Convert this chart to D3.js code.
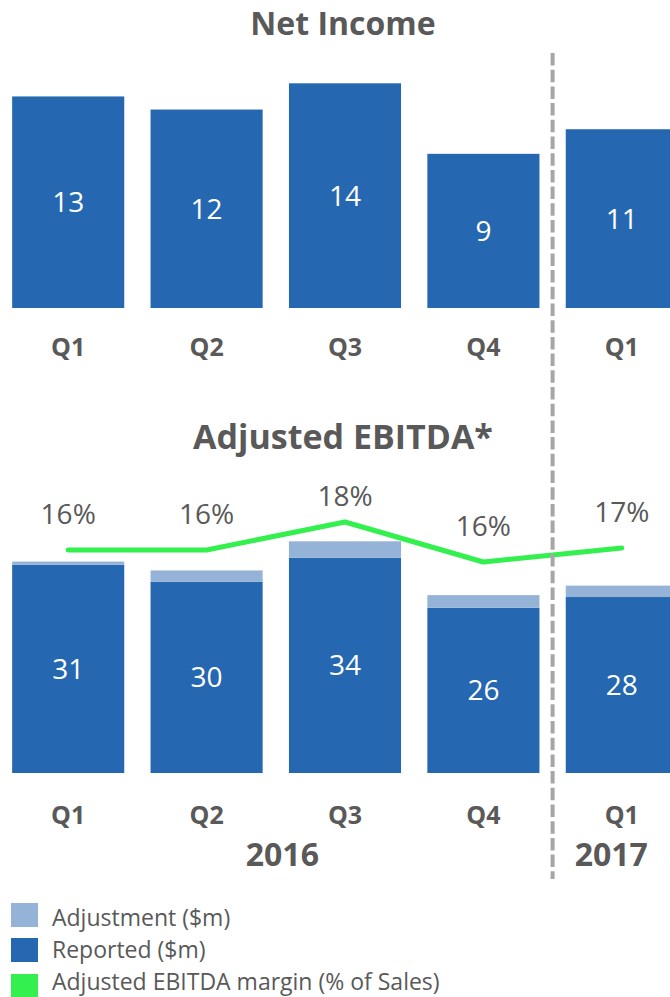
<!DOCTYPE html>
<html>
<head>
<meta charset="utf-8">
<script src="https://cdn.jsdelivr.net/npm/d3@7"></script>
<style>
  html, body { margin: 0; padding: 0; background: #fff; }
  svg { display: block; font-family: "Open Sans", sans-serif; }
</style>
</head>
<body>
<div id="chart"></div>
<script>
// ---- data ----
const periods = ["2016 Q1", "2016 Q2", "2016 Q3", "2016 Q4", "2017 Q1"];
const quarterLabels = ["Q1", "Q2", "Q3", "Q4", "Q1"];
const yearLabels = ["2016", "2017"];
const netIncome = [12.9, 12.1, 13.7, 9.4, 10.9];
const netIncomeLabels = ["13", "12", "14", "9", "11"];
const ebitdaReported = [32.9, 30.2, 34.0, 26.1, 27.8];
const ebitdaAdjustment = [0.5, 1.8, 2.6, 2.0, 1.8];
const ebitdaReportedLabels = ["31", "30", "34", "26", "28"];
const marginPct = [16.4, 16.4, 17.8, 15.8, 16.5];
const marginLabels = ["16%", "16%", "18%", "16%", "17%"];
const legendItems = ["Adjustment ($m)", "Reported ($m)", "Adjusted EBITDA margin (% of Sales)"];

// ---- style ----
const W = 670, H = 997;
const C_DARK = "#2567B1", C_LIGHT = "#95B3D7", C_GREEN = "#33F04E", C_TEXT = "#595959", C_DASH = "#A6A6A6";

const svg = d3.select("#chart").append("svg").attr("width", W).attr("height", H);

const x = d3.scaleBand().domain(periods).range([-1, 691]).paddingInner(0.19).paddingOuter(0.095);
const bw = x.bandwidth();
const cx = p => x(p) + bw / 2;

// ---- Net Income ----
const yNI = d3.scaleLinear().domain([0, 15]).range([308, 62]);
svg.append("text").attr("x", 343).attr("y", 35).attr("text-anchor", "middle")
  .attr("font-size", 32).attr("font-weight", 700).attr("fill", C_TEXT).text("Net Income");

const niData = periods.map((p, i) => ({ p, v: netIncome[i], label: netIncomeLabels[i] }));
svg.append("g").selectAll("rect").data(niData).join("rect")
  .attr("x", d => x(d.p)).attr("width", bw)
  .attr("y", d => yNI(d.v)).attr("height", d => yNI(0) - yNI(d.v))
  .attr("fill", C_DARK);
svg.append("g").selectAll("text").data(niData).join("text")
  .attr("x", d => cx(d.p)).attr("y", d => (yNI(d.v) + yNI(0)) / 2)
  .attr("dy", "0.36em").attr("text-anchor", "middle")
  .attr("font-size", 28).attr("fill", "#fff").text(d => d.label);

const axisTop = d3.axisBottom(x).tickSize(0).tickPadding(0)
  .tickFormat((d, i) => quarterLabels[i]);
const gAxTop = svg.append("g").attr("transform", "translate(0,338)").call(axisTop);
gAxTop.select(".domain").remove();
gAxTop.selectAll("text").attr("font-size", 25).attr("font-weight", 700)
  .attr("fill", C_TEXT).attr("font-family", "Open Sans, sans-serif").attr("dy", "0.71em");

// ---- Adjusted EBITDA ----
const yE = d3.scaleLinear().domain([0, 40]).range([773, 519.8]);
svg.append("text").attr("x", 343).attr("y", 449).attr("text-anchor", "middle")
  .attr("font-size", 34).attr("font-weight", 700).attr("fill", C_TEXT).text("Adjusted EBITDA*");

const eData = periods.map((p, i) => ({ p, rep: ebitdaReported[i], adj: ebitdaAdjustment[i], label: ebitdaReportedLabels[i] }));
const stack = d3.stack().keys(["rep", "adj"])(eData);
const stackColors = { rep: C_DARK, adj: C_LIGHT };
svg.append("g").selectAll("g").data(stack).join("g")
  .attr("fill", s => stackColors[s.key])
  .selectAll("rect").data(s => s).join("rect")
  .attr("x", d => x(d.data.p)).attr("width", bw)
  .attr("y", d => yE(d[1])).attr("height", d => yE(d[0]) - yE(d[1]));
svg.append("g").selectAll("text").data(eData).join("text")
  .attr("x", d => cx(d.p)).attr("y", d => (yE(d.rep) + yE(0)) / 2)
  .attr("dy", "0.36em").attr("text-anchor", "middle")
  .attr("font-size", 28).attr("fill", "#fff").text(d => d.label);

// margin line
const yM = d3.scaleLinear().domain([0, 25]).range([878, 378]);
const mData = periods.map((p, i) => ({ p, v: marginPct[i], label: marginLabels[i] }));
svg.append("path").datum(mData)
  .attr("d", d3.line().x(d => cx(d.p)).y(d => yM(d.v)))
  .attr("fill", "none").attr("stroke", C_GREEN).attr("stroke-width", 5)
  .attr("stroke-linecap", "round").attr("stroke-linejoin", "round");
// labels sit above points, but not higher than the label ceiling below the title
const labelCeiling = 506;
svg.append("g").selectAll("text").data(mData).join("text")
  .attr("x", d => cx(d.p)).attr("y", d => Math.max(yM(d.v) - 26, labelCeiling))
  .attr("text-anchor", "middle").attr("font-size", 28).attr("fill", C_TEXT).text(d => d.label);

const axisBot = d3.axisBottom(x).tickSize(0).tickPadding(0)
  .tickFormat((d, i) => quarterLabels[i]);
const gAxBot = svg.append("g").attr("transform", "translate(0,806)").call(axisBot);
gAxBot.select(".domain").remove();
gAxBot.selectAll("text").attr("font-size", 25).attr("font-weight", 700)
  .attr("fill", C_TEXT).attr("font-family", "Open Sans, sans-serif").attr("dy", "0.71em");

// divider
const divX = (x(periods[3]) + bw + x(periods[4])) / 2;
svg.append("line").attr("x1", divX).attr("x2", divX).attr("y1", 53).attr("y2", 879)
  .attr("stroke", C_DASH).attr("stroke-width", 4).attr("stroke-dasharray", "12.5 4.2");

// year labels
const yearCenters = [(x(periods[0]) + divX) / 2, (divX + W) / 2];
svg.append("g").selectAll("text").data(yearLabels).join("text")
  .attr("x", (d, i) => yearCenters[i]).attr("y", 866).attr("text-anchor", "middle")
  .attr("font-size", 32).attr("font-weight", 700).attr("fill", C_TEXT).text(d => d);

// legend
const legendColors = [C_LIGHT, C_DARK, C_GREEN];
const lg = svg.append("g");
const legendRowY = [903, 938, 974];
const legendTextY = [926, 958, 990];
lg.selectAll("rect").data(legendItems).join("rect")
  .attr("x", 11).attr("y", (d, i) => legendRowY[i]).attr("width", 27).attr("height", 24)
  .attr("fill", (d, i) => legendColors[i]);
lg.selectAll("text").data(legendItems).join("text")
  .attr("x", 52).attr("y", (d, i) => legendTextY[i])
  .attr("font-size", 23).attr("fill", C_TEXT).text(d => d);
</script>
</body>
</html>
